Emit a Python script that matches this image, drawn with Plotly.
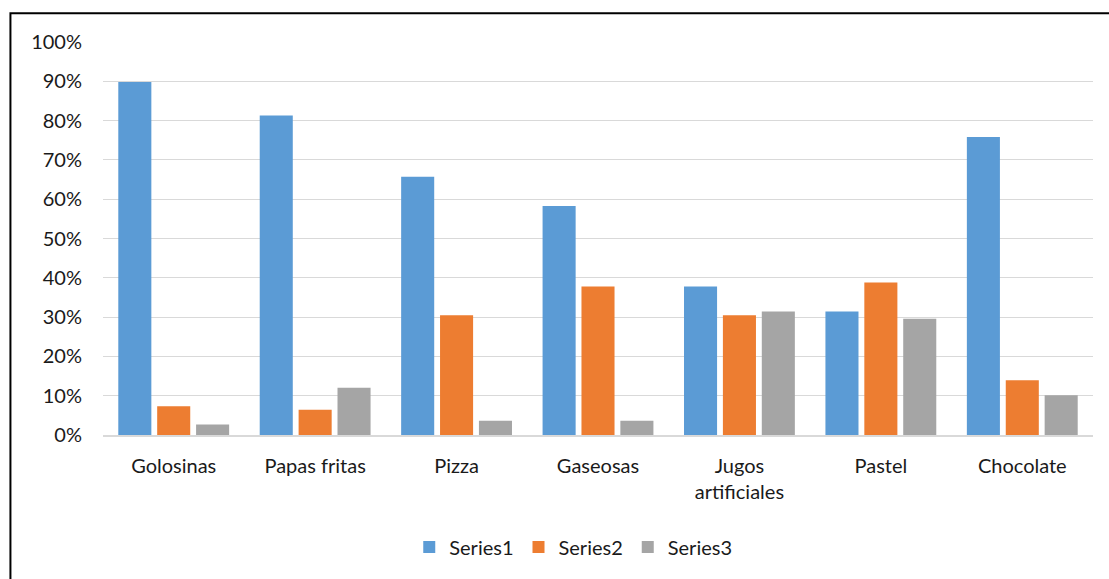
import plotly.graph_objects as go

categories = ["Golosinas", "Papas fritas", "Pizza", "Gaseosas", "Jugos<br>artificiales", "Pastel", "Chocolate"]
series1 = [0.898, 0.813, 0.657, 0.583, 0.378, 0.314, 0.758]
series2 = [0.073, 0.064, 0.305, 0.378, 0.305, 0.388, 0.139]
series3 = [0.027, 0.120, 0.036, 0.036, 0.314, 0.296, 0.101]
series_names = ["Series1", "Series2", "Series3"]
colors = ["#5b9bd5", "#ed7d31", "#a5a5a5"]

fig = go.Figure()
for name, vals, col in zip(series_names, [series1, series2, series3], colors):
    fig.add_trace(go.Bar(x=categories, y=vals, name=name,
                         marker=dict(color=col, line=dict(width=0))))

font_family = "Lato, 'Open Sans', sans-serif"
fig.update_layout(
    width=1109, height=579,
    margin=dict(l=103, r=16, t=42, b=142),
    paper_bgcolor="white", plot_bgcolor="white",
    barmode="group", bargap=0.175, bargroupgap=0.15,
    font=dict(family=font_family, size=20, color="#1a1a1a"),
    showlegend=True,
    legend=dict(orientation="h", x=0.475, xanchor="center", y=-0.285, yanchor="middle",
                font=dict(size=20), itemwidth=30, traceorder="normal"),
    xaxis=dict(showgrid=False, showline=True, linecolor="#d9d9d9", linewidth=1.5,
               ticks="", ticklabelstandoff=12, tickfont=dict(size=20)),
    yaxis=dict(range=[0, 1], dtick=0.1, tickformat=".0%", showgrid=True,
               gridcolor="#d9d9d9", gridwidth=1.2, zeroline=False, showline=False,
               ticks="", ticklabelstandoff=20, tickfont=dict(size=20)),
    shapes=[dict(type="rect", xref="paper", yref="paper",
                 x0=-0.0935, x1=1.05, y0=-0.6, y1=1.073,
                 line=dict(color="black", width=2), fillcolor="rgba(0,0,0,0)")],
)

fig.write_html("out.html")
